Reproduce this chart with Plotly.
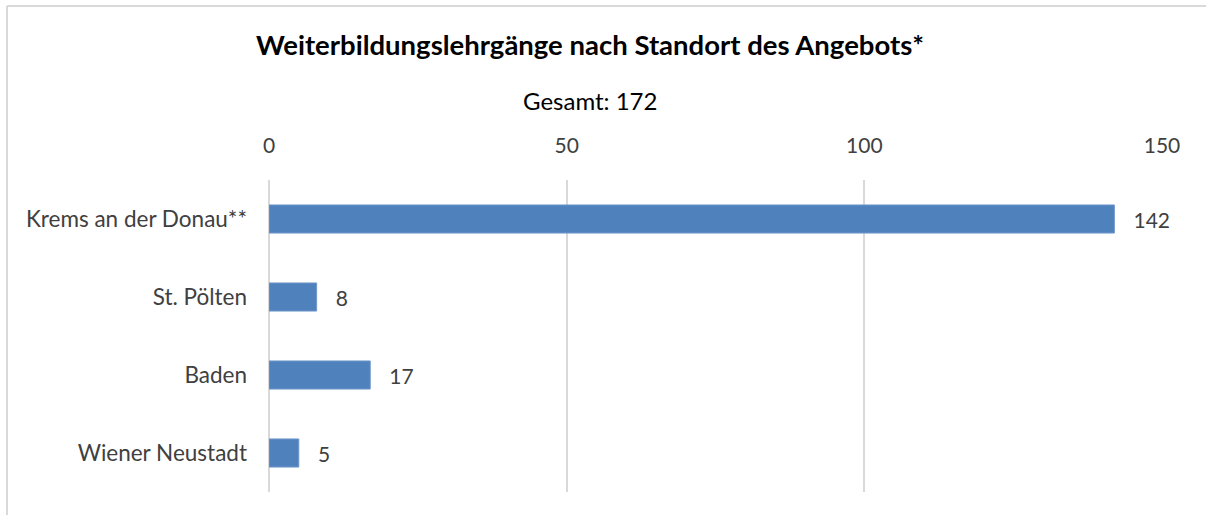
import plotly.graph_objects as go

categories = ["Krems an der Donau**", "St. Pölten", "Baden", "Wiener Neustadt"]
values = [142, 8, 17, 5]
tick_vals = [0, 50, 100, 150]
title_text = "Weiterbildungslehrgänge nach Standort des Angebots*"
subtitle_text = "Gesamt: 172"

FONT = "Lato, 'Open Sans', sans-serif"

fig = go.Figure(go.Bar(
    x=values, y=categories, orientation="h",
    marker=dict(color="#4f81bd", line=dict(color="#6f97cb", width=1)),
    width=0.36,
    text=values, texttemplate="   %{x}", textposition="outside",
    textfont=dict(family=FONT, size=21, color="#404040"),
    cliponaxis=False,
))

fig.update_layout(
    width=1206, height=515,
    margin=dict(l=269, r=44, t=180, b=23),
    paper_bgcolor="white", plot_bgcolor="white",
    showlegend=False,
    font=dict(family=FONT, color="#404040"),
    title=dict(text="<b>" + title_text + "</b>", x=590 / 1206, xanchor="center",
               y=1 - 45 / 515, yanchor="middle",
               font=dict(family=FONT, size=27.5, color="black")),
    xaxis=dict(range=[0, 150], side="top", tickvals=tick_vals,
               showgrid=True, gridcolor="#d9d9d9", gridwidth=1.5,
               zeroline=True, zerolinecolor="#d9d9d9", zerolinewidth=1.5,
               showline=False, ticks="", ticklen=0,
               ticklabelstandoff=22,
               tickfont=dict(family=FONT, size=21, color="#404040")),
    yaxis=dict(autorange="reversed", showgrid=False, ticks="",
               ticklabelstandoff=21,
               tickfont=dict(family=FONT, size=22.5, color="#404040")),
    annotations=[dict(text=subtitle_text, xref="paper", yref="paper",
                      x=(590 - 269) / 893, y=(492 - 100) / 312,
                      xanchor="center", yanchor="middle", showarrow=False,
                      font=dict(family=FONT, size=24, color="black"))],
    shapes=[
        dict(type="line", xref="paper", yref="paper",
             x0=(7 - 269) / 893, x1=(7 - 269) / 893, y0=(492 - 6) / 312, y1=(492 - 520) / 312,
             line=dict(color="#d9d9d9", width=2)),
        dict(type="line", xref="paper", yref="paper",
             x0=(7 - 269) / 893, x1=(1210 - 269) / 893, y0=(492 - 6) / 312, y1=(492 - 6) / 312,
             line=dict(color="#d9d9d9", width=2)),
    ],
)

fig.write_html("out.html", config={"displayModeBar": False},
               post_script="document.body.style.margin='0';document.body.style.overflow='hidden';")
